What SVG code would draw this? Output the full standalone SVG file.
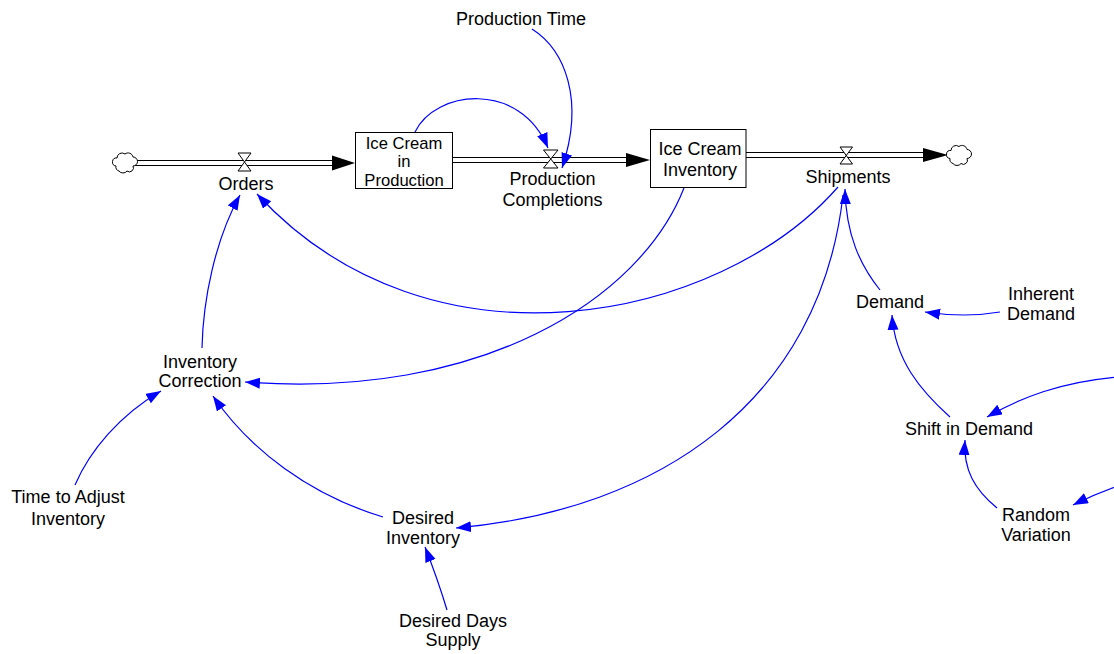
<svg xmlns="http://www.w3.org/2000/svg" width="1114" height="654" viewBox="0 0 1114 654">
  <defs>
    <style>
      text { font-family: "Liberation Sans", Arial, sans-serif; font-size: 18px; fill: #000; text-anchor: middle; }
      text.tight { font-size: 16.6px; }
      .link { fill: none; stroke: #0000ff; stroke-width: 1.2; marker-end: url(#ah); }
      .pipe { stroke: #000; stroke-width: 1; fill: none; }
      .valve { fill: #fff; stroke: #000; stroke-width: 1; }
      .stock { fill: #fff; stroke: #000; stroke-width: 1; }
      .cloud { fill: #fff; stroke: #000; stroke-width: 1; }
      .flowhead { fill: #000; }
    </style>
    <marker id="ah" markerUnits="userSpaceOnUse" markerWidth="16" markerHeight="12" refX="15" refY="5.5" orient="auto">
      <path d="M0,0 L15,5.5 L0,11 Z" fill="#0000ff"/>
    </marker>
    <path id="cloudShape" d="M116,166 a4,4 0 0 1 1,-8 a5,5 0 0 1 8,-4 a5,5 0 0 1 8,3 a4,4 0 0 1 0,9 a4,4 0 0 1 -6,5 a5,5 0 0 1 -8,0 a4,4 0 0 1 -3,-5 z"/>
  </defs>
  <rect x="0" y="0" width="1114" height="654" fill="#fff"/>

  <!-- material flows: pipes, valves, clouds -->
  <g id="flows">
    <line class="pipe" x1="130" y1="160.5" x2="333" y2="160.5"/>
    <line class="pipe" x1="130" y1="165.5" x2="333" y2="165.5"/>
    <path class="flowhead" d="M332,155.5 L355,163 L332,170.5 Z"/>

    <line class="pipe" x1="453" y1="157.5" x2="627" y2="157.5"/>
    <line class="pipe" x1="453" y1="162.5" x2="627" y2="162.5"/>
    <path class="flowhead" d="M626,153 L650,160 L626,167 Z"/>

    <line class="pipe" x1="746" y1="152.5" x2="924" y2="152.5"/>
    <line class="pipe" x1="746" y1="157.5" x2="924" y2="157.5"/>
    <path class="flowhead" d="M923,148 L948,155 L923,162 Z"/>

    <use href="#cloudShape" class="cloud"/>
    <use href="#cloudShape" class="cloud" transform="translate(834,-7.5)"/>
  </g>

  <!-- information links -->
  <g id="connectors">
    <path class="link" d="M415,132 C435,90 520,80 548,148"/>
    <path class="link" d="M532,29 C565,50 585,100 562,168"/>
    <path class="link" d="M684,188 C640,300 480,400 245,382"/>
    <path class="link" d="M838,187 C720,322 430,382 257,194"/>
    <path class="link" d="M202,348 C203,300 215,240 240,195"/>
    <path class="link" d="M843,195 C820,400 660,510 456,528"/>
    <path class="link" d="M880,290 C860,265 846,235 845,189"/>
    <path class="link" d="M1000,312 Q965,318 925,312"/>
    <path class="link" d="M950,417 C920,390 895,360 892,315"/>
    <path class="link" d="M997,508 C975,490 963,470 965,440"/>
    <path class="link" d="M1118,377 C1060,382 1020,398 987,417"/>
    <path class="link" d="M1118,486 Q1095,494 1073,505"/>
    <path class="link" d="M75,485 C90,450 120,415 161,391"/>
    <path class="link" d="M383,517 C310,495 250,450 213,396"/>
    <path class="link" d="M447,610 Q438,580 425,547"/>
  </g>

  <!-- stocks -->
  <g id="ice-cream-in-production">
    <rect class="stock" x="355.5" y="132.5" width="97" height="56"/>
    <text class="tight" x="404" y="148.5"><tspan x="404">Ice Cream</tspan><tspan x="404" dy="18.5">in</tspan><tspan x="404" dy="18.5">Production</tspan></text>
  </g>
  <g id="ice-cream-inventory">
    <rect class="stock" x="650.5" y="129.5" width="95.5" height="58"/>
    <text x="700" y="155"><tspan x="700">Ice Cream</tspan><tspan x="700" dy="21">Inventory</tspan></text>
  </g>

  <!-- rates -->
  <g id="orders">
    <path class="valve" d="M238,153 L251,153 L238,171 L251,171 Z"/>
    <text x="246" y="190">Orders</text>
  </g>
  <g id="production-completions">
    <path class="valve" d="M543.5,150 L558,150 L543.5,168 L558,168 Z"/>
    <text x="552.5" y="185"><tspan x="552.5">Production</tspan><tspan x="552.5" dy="20.5">Completions</tspan></text>
  </g>
  <g id="shipments">
    <path class="valve" d="M840,147 L852.5,147 L840,164 L852.5,164 Z"/>
    <text x="848" y="182.5">Shipments</text>
  </g>

  <!-- auxiliaries -->
  <g id="production-time">
    <text x="521" y="25">Production Time</text>
  </g>
  <g id="demand">
    <text x="890" y="308">Demand</text>
  </g>
  <g id="inherent-demand">
    <text x="1041" y="299.5"><tspan x="1041">Inherent</tspan><tspan x="1041" dy="20.5">Demand</tspan></text>
  </g>
  <g id="shift-in-demand">
    <text x="969" y="434.5">Shift in Demand</text>
  </g>
  <g id="random-variation">
    <text x="1036" y="521"><tspan x="1036">Random</tspan><tspan x="1036" dy="20">Variation</tspan></text>
  </g>
  <g id="inventory-correction">
    <text x="200" y="368"><tspan x="200">Inventory</tspan><tspan x="200" dy="19">Correction</tspan></text>
  </g>
  <g id="time-to-adjust-inventory">
    <text x="68" y="503"><tspan x="68">Time to Adjust</tspan><tspan x="68" dy="21.5">Inventory</tspan></text>
  </g>
  <g id="desired-inventory">
    <text x="423" y="523.5"><tspan x="423">Desired</tspan><tspan x="423" dy="20.5">Inventory</tspan></text>
  </g>
  <g id="desired-days-supply">
    <text x="453" y="627"><tspan x="453">Desired Days</tspan><tspan x="453" dy="19">Supply</tspan></text>
  </g>
</svg>
